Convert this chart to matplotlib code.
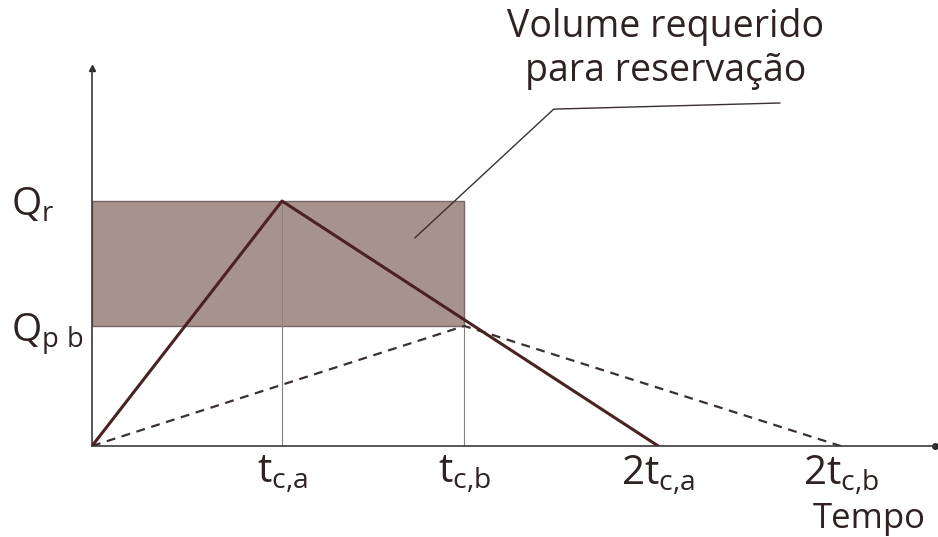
import matplotlib
matplotlib.use("Agg")
import matplotlib.pyplot as plt
from matplotlib.patches import Rectangle

plt.rcParams['font.family'] = ['Open Sans', 'DejaVu Sans']
plt.rcParams['mathtext.fontset'] = 'custom'
plt.rcParams['mathtext.rm'] = 'Open Sans'
plt.rcParams['mathtext.it'] = 'Open Sans'

# Hydrograph a (solid): rise to peak at t_c,a, recession to 2 t_c,a
hydro_a_t = [0.0, 1.0, 2.98]
hydro_a_q = [0.0, 1.0, 0.0]
# Hydrograph b (dashed): rise to peak at t_c,b, recession to 2 t_c,b
hydro_b_t = [0.0, 1.96, 3.94]
hydro_b_q = [0.0, 0.49, 0.0]

q_levels = [1.0, 0.49]
q_labels = [r'$\mathregular{Q_{r}}$', r'$\mathregular{Q_{p\ b}}$']

x_ticks = [1.0, 1.96, 2.98, 3.94]
x_labels = [r'$\mathregular{t_{c{,}a}}$', r'$\mathregular{t_{c{,}b}}$',
            r'$\mathregular{2t_{c{,}a}}$', r'$\mathregular{2t_{c{,}b}}$']

annot_text = 'Volume requerido\npara reservação'
x_title = 'Tempo'

ink = '#2e2222'

origin_px = 446
fig = plt.figure(figsize=(9.38, 5.37), dpi=100)
ax = fig.add_axes([92/938, (537-origin_px)/537, 843/938, (origin_px-68)/537])
ax.set_xlim(0, 843/190)
ax.set_ylim(0, (origin_px-68)/245)

# storage rectangle
ax.add_patch(Rectangle((0, q_levels[1]), hydro_b_t[1], q_levels[0]-q_levels[1],
                       facecolor='#a8928e', edgecolor='#7a6664', lw=1.0, zorder=1))

# thin verticals at peaks
ax.plot([hydro_a_t[1]]*2, [0, hydro_a_q[1]], color='#8a8080', lw=0.8, zorder=2)
ax.plot([hydro_b_t[1]]*2, [0, hydro_b_q[1]], color='#8a8080', lw=0.8, zorder=2)

ax.plot(hydro_b_t, hydro_b_q, color='#3a3030', lw=1.6, ls=(0, (4, 3)), zorder=3)
ax.plot(hydro_a_t, hydro_a_q, color='#4a2222', lw=2.2, zorder=4, solid_capstyle='round')

# spines
for s in ['top', 'right']:
    ax.spines[s].set_visible(False)
for s in ['left', 'bottom']:
    ax.spines[s].set_color('#3a3a3a')
    ax.spines[s].set_linewidth(1.2)
ax.plot(1, 0, marker='o', ms=4, color='#2a2a2a', transform=ax.transAxes, clip_on=False)
ax.plot(0, 1, marker='^', ms=5, color='#2a2a2a', transform=ax.transAxes, clip_on=False)

ax.set_xticks(x_ticks, x_labels, fontsize=29, color=ink)
ax.tick_params(axis='x', length=0, pad=6)
ax.set_yticks(q_levels, q_labels, fontsize=28, color=ink)
ax.tick_params(axis='y', length=0, pad=58)
for lab in ax.get_yticklabels():
    lab.set_horizontalalignment('left')

ax.text(4.09, -(519-origin_px)/245, x_title, fontsize=25, color=ink,
        ha='center', va='center', clip_on=False)

# leader line for annotation
ax.plot([1.70, 2.43, 3.62], [0.85, 1.375, 1.40], color='#3a3030', lw=1.0, clip_on=False)
ax.text(3.02, 1.62, annot_text, fontsize=27, color=ink, ha='center', va='center',
        linespacing=1.2, clip_on=False)

fig.savefig('out.png', dpi=100, facecolor='white')
